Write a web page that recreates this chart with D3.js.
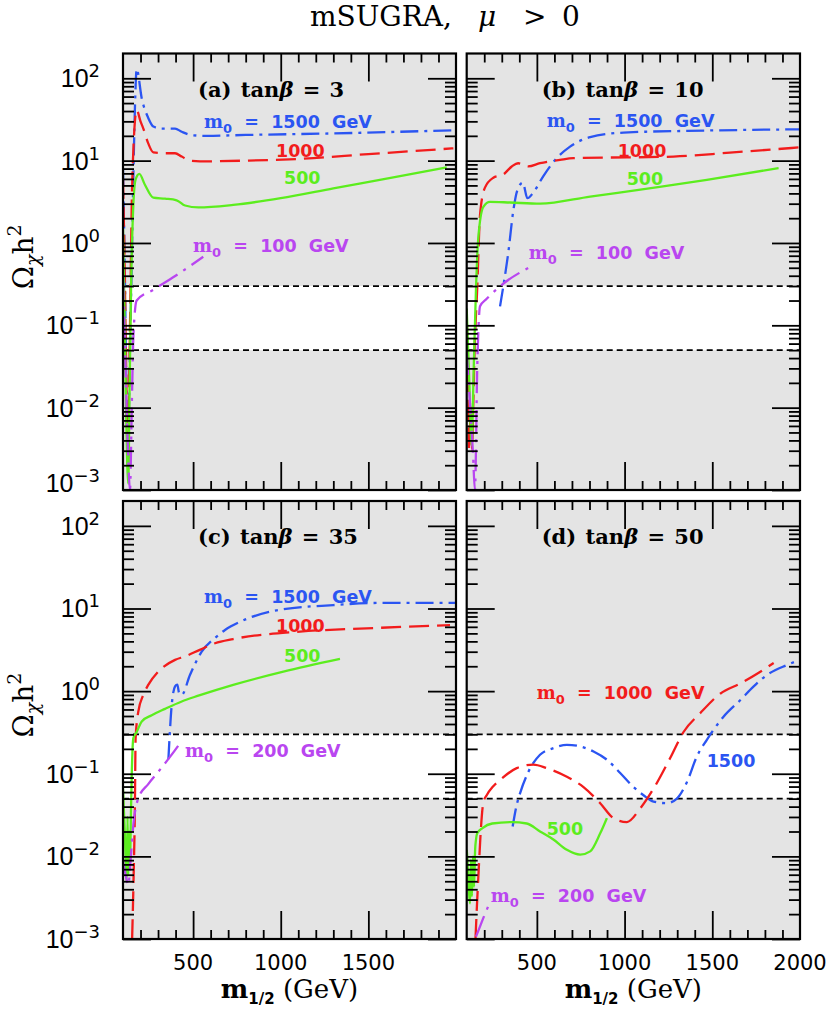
<!DOCTYPE html>
<html>
<head>
<meta charset="utf-8">
<script src="https://cdn.jsdelivr.net/npm/d3@7"></script>
<style>
  body { margin: 0; background: #fff; }
  svg text { white-space: pre; }
</style>
</head>
<body>
<svg id="fig" width="830" height="1012"></svg>
<script>
/* mSUGRA relic density, four tan(beta) panels. */

// axes
const X_DOMAIN = [100, 2000];
const Y_DOMAIN = [1e-3, 200];
const xMajor = [500, 1000, 1500];
const xLabelsLeft = [500, 1000, 1500];
const xLabelsRight = [500, 1000, 1500, 2000];
const yDecades = [1e-3, 1e-2, 1e-1, 1, 10, 100];
const yExponents = ["\u22123", "\u22122", "\u22121", "0", "1", "2"];
const wmapBand = [0.05, 0.3];

// (a) tan beta = 3   — [m_1/2 (GeV), Omega h^2]
const a1500 = [[100,8],[110,0.5],[122,0.01],[130,0.006],[140,0.05],[150,0.6],[160,8],[170,60],[178,130],[207,57],[244,33],[273,26],[321,24.5],[397,24.5],[435,22.4],[492,20.4],[578,20],[800,20.5],[1298,21.4],[1985,23.4]];
const a1000 = [[100,6],[108,0.8],[118,0.03],[128,0.002],[135,0.02],[142,0.2],[150,3],[160,15],[178,41],[200,30],[216,24.5],[244,16.2],[273,12.6],[340,12.3],[397,12.3],[435,11.2],[482,10],[539,9.8],[800,10],[1110,10.5],[1500,12],[1985,14.1]];
const a500 = [[100,1.5],[110,0.1],[120,0.005],[130,0.0012],[138,0.02],[146,0.28],[159,2.9],[172,5.9],[193,6.9],[225,5.1],[273,3.55],[340,3.45],[406,3.3],[454,2.85],[530,2.7],[729,2.9],[1000,3.5],[1300,4.6],[1650,6.3],[1947,8.3]];
const a100 = [[100,0.38],[112,0.05],[125,0.005],[140,0.001],[150,0.01],[160,0.08],[178,0.2],[273,0.27],[400,0.4],[558,0.68]];

// (b) tan beta = 10
const b1500 = [[290,0.17],[309,0.3],[337,0.76],[366,2.5],[389,4.4],[420,5.4],[446,3.5],[480,4.1],[537,6.5],[604,10.2],[689,14.8],[804,19.3],[994,21.9],[1469,23.2],[2000,24]];
const b1000 = [[100,0.13],[108,0.02],[114,0.003],[118,0.012],[122,0.004],[126,0.01],[130,0.003],[136,0.008],[145,0.05],[160,0.28],[176,2.2],[204,4.7],[252,6.2],[309,6.8],[357,8.5],[394,9.3],[451,8.5],[518,9.3],[632,10.2],[708,10.7],[1279,11.2],[1600,12.5],[2000,14.5]];
const b500 = [[100,0.16],[115,0.02],[128,0.0035],[140,0.03],[153,0.28],[166,1.15],[195,2.75],[233,3.16],[347,3.1],[518,3.0],[804,3.66],[1200,4.8],[1469,5.85],[1878,8.1]];
const b100 = [[100,0.046],[120,0.01],[135,0.003],[147,0.001],[160,0.03],[176,0.17],[214,0.21],[300,0.31],[461,0.51]];

// (c) tan beta = 35
const c1500 = [[359,0.15],[378,0.68],[397,1.14],[410,1.2],[420,0.95],[435,0.9],[482,1.57],[549,3.0],[625,4.4],[682,5.5],[768,6.9],[977,9.5],[1300,11],[1585,11.7],[2000,11.7]];
const c1000 = [[152,0.001],[160,0.005],[168,0.042],[172,0.27],[187,0.56],[216,0.9],[244,1.19],[301,1.72],[397,2.39],[454,2.63],[538,3.16],[625,3.8],[729,4.27],[1110,5.25],[1490,5.75],[1966,6.3]];
const c500 = [[100,0.066],[110,0.02],[121,0.005],[126,0.03],[130,0.006],[135,0.02],[140,0.008],[145,0.03],[150,0.1],[159,0.27],[178,0.32],[207,0.43],[264,0.51],[340,0.61],[435,0.75],[530,0.88],[729,1.19],[1015,1.72],[1338,2.45]];
const c200 = [[100,0.0087],[115,0.006],[130,0.0045],[145,0.01],[159,0.024],[187,0.05],[244,0.075],[292,0.1],[368,0.16],[435,0.25]];

// (d) tan beta = 50
const d1500 = [[362,0.023],[385,0.042],[404,0.058],[452,0.106],[518,0.17],[594,0.204],[671,0.224],[747,0.214],[823,0.186],[899,0.148],[975,0.102],[1051,0.069],[1108,0.055],[1165,0.046],[1241,0.044],[1298,0.05],[1355,0.079],[1412,0.162],[1469,0.257],[1507,0.34],[1564,0.49],[1660,0.78],[1736,1.14],[1812,1.57],[1926,2.07],[2000,2.39]];
const d1000 = [[150,0.001],[160,0.003],[170,0.008],[180,0.02],[195,0.045],[214,0.055],[250,0.07],[290,0.084],[385,0.117],[480,0.129],[556,0.117],[671,0.092],[766,0.069],[861,0.044],[937,0.029],[1013,0.026],[1089,0.038],[1165,0.066],[1260,0.155],[1336,0.32],[1431,0.54],[1545,0.93],[1660,1.24],[1774,1.72],[1850,2.19]];
const d500 = [[100,0.012],[103,0.01],[112,0.004],[119,0.0027],[124,0.009],[130,0.0033],[136,0.01],[142,0.0043],[148,0.012],[153,0.016],[160,0.019],[190,0.022],[245,0.025],[357,0.026],[442,0.025],[518,0.02],[594,0.016],[671,0.012],[747,0.0105],[804,0.0115],[861,0.019],[899,0.029]];
const d200 = [[153,0.00107],[175,0.0014],[195,0.0018],[223,0.0025]];

(function () {
  "use strict";

  const BLUE = "#2b55f2", RED = "#f21c1c", GREEN = "#5ced1e", PURPLE = "#b946f0";
  const GRAY = "#e4e4e4";
  const STYLE = {
    hi:  { color: BLUE,   dash: "18,6,3,6" },
    mid: { color: RED,    dash: "20,8" },
    lo:  { color: GREEN,  dash: null },
    min: { color: PURPLE, dash: "22,7,3,7" },
  };
  const SANS = "DejaVu Sans", SERIF = "DejaVu Serif";

  const LEFT = { left: 123, right: 456 }, RIGHT = { left: 466.7, right: 800 };
  const TOP = { top: 53.5, bottom: 490 }, BOT = { top: 501, bottom: 939 };

  // label offsets are px from the panel's top-left corner (baseline)
  const panels = [
    { id: "a", tanb: "3", ...LEFT, ...TOP, yLabels: true, xLabels: null,
      curves: [[a1500, "hi"], [a1000, "mid"], [a500, "lo"], [a100, "min"]],
      labels: [
        { s: "hi", m0: true, t: "  =  1500  GeV", dx: 81, dy: 74.5 },
        { s: "mid", t: "1000", dx: 153, dy: 103.5 },
        { s: "lo", t: "500", dx: 161, dy: 130.5 },
        { s: "min", m0: true, t: "  =  100  GeV", dx: 70, dy: 198.5 },
      ] },
    { id: "b", tanb: "10", ...RIGHT, ...TOP, yLabels: false, xLabels: null,
      curves: [[b1500, "hi"], [b1000, "mid"], [b500, "lo"], [b100, "min"]],
      labels: [
        { s: "hi", m0: true, t: "  =  1500  GeV", dx: 80, dy: 73 },
        { s: "mid", t: "1000", dx: 151, dy: 103 },
        { s: "lo", t: "500", dx: 160, dy: 131.5 },
        { s: "min", m0: true, t: "  =  100  GeV", dx: 62, dy: 205.5 },
      ] },
    { id: "c", tanb: "35", ...LEFT, ...BOT, yLabels: true, xLabels: xLabelsLeft,
      curves: [[c1500, "hi"], [c1000, "mid"], [c500, "lo"], [c200, "min"]],
      labels: [
        { s: "hi", m0: true, t: "  =  1500  GeV", dx: 81, dy: 102 },
        { s: "mid", t: "1000", dx: 153, dy: 130.7 },
        { s: "lo", t: "500", dx: 161, dy: 160.7 },
        { s: "min", m0: true, t: "  =  200  GeV", dx: 62, dy: 255.7 },
      ] },
    { id: "d", tanb: "50", ...RIGHT, ...BOT, yLabels: false, xLabels: xLabelsRight,
      curves: [[d1500, "hi"], [d1000, "mid"], [d500, "lo"], [d200, "min"]],
      labels: [
        { s: "mid", m0: true, t: "  =  1000  GeV", dx: 70, dy: 198 },
        { s: "hi", t: "1500", dx: 240, dy: 265.7 },
        { s: "lo", t: "500", dx: 80, dy: 334 },
        { s: "min", m0: true, t: "  =  200  GeV", dx: 24, dy: 400.7 },
      ] },
  ];

  const xMinor = d3.range(200, 2000, 100).filter((v) => !xMajor.includes(v));
  const yMinor = yDecades.flatMap((d) => d3.range(2, 10).map((k) => d * k))
    .filter((v) => v < Y_DOMAIN[1]);

  const svg = d3.select("#fig");
  const defs = svg.append("defs");

  // title
  const title = svg.append("text").attr("y", 26).attr("font-family", SERIF)
    .attr("font-size", 28).attr("fill", "#000");
  title.append("tspan").attr("x", 310).text("mSUGRA,");
  title.append("tspan").attr("x", 478).attr("font-style", "italic").text("\u03bc");
  title.append("tspan").attr("x", 523).text(">");
  title.append("tspan").attr("x", 562).text("0");

  panels.forEach(drawPanel);

  function drawPanel(p) {
    const x = d3.scaleLinear().domain(X_DOMAIN).range([p.left, p.right]);
    const y = d3.scaleLog().domain(Y_DOMAIN).range([p.bottom, p.top]);
    const g = svg.append("g").attr("class", "panel-" + p.id);

    defs.append("clipPath").attr("id", "clip-" + p.id).append("rect")
      .attr("x", p.left).attr("y", p.top).attr("width", p.right - p.left).attr("height", p.bottom - p.top);

    // shaded background, white allowed band
    g.append("rect").attr("x", p.left).attr("y", p.top)
      .attr("width", p.right - p.left).attr("height", p.bottom - p.top).attr("fill", GRAY);
    g.append("rect").attr("x", p.left).attr("y", y(wmapBand[1]))
      .attr("width", p.right - p.left).attr("height", y(wmapBand[0]) - y(wmapBand[1])).attr("fill", "#fff");
    g.selectAll(".band").data(wmapBand).enter().append("line")
      .attr("x1", p.left).attr("x2", p.right).attr("y1", (v) => y(v)).attr("y2", (v) => y(v))
      .attr("stroke", "#000").attr("stroke-width", 1.8).attr("stroke-dasharray", "6,4");

    // curves
    const line = d3.line().x((d) => x(d[0])).y((d) => y(d[1])).curve(d3.curveMonotoneX);
    const cg = g.append("g").attr("clip-path", `url(#clip-${p.id})`);
    p.curves.forEach(([data, s]) => {
      cg.append("path").datum(data).attr("d", line).attr("fill", "none")
        .attr("stroke", STYLE[s].color).attr("stroke-width", 2.3)
        .attr("stroke-linejoin", "round")
        .attr("stroke-dasharray", STYLE[s].dash);
    });

    // inward ticks on all four sides
    const ax = (fn, sc, vals, size, tr) => {
      g.append("g").attr("transform", tr)
        .call(fn(sc).tickValues(vals).tickSize(-size).tickFormat(""))
        .call((s) => s.select(".domain").remove())
        .selectAll("line").attr("stroke", "#000").attr("stroke-width", 1.8);
    };
    ax(d3.axisLeft, y, yDecades, 28, `translate(${p.left},0)`);
    ax(d3.axisLeft, y, yMinor, 11, `translate(${p.left},0)`);
    ax(d3.axisRight, y, yDecades, 28, `translate(${p.right},0)`);
    ax(d3.axisRight, y, yMinor, 11, `translate(${p.right},0)`);
    ax(d3.axisBottom, x, xMajor, 28, `translate(0,${p.bottom})`);
    ax(d3.axisBottom, x, xMinor, 9, `translate(0,${p.bottom})`);
    ax(d3.axisTop, x, xMajor, 28, `translate(0,${p.top})`);
    ax(d3.axisTop, x, xMinor, 9, `translate(0,${p.top})`);

    g.append("rect").attr("x", p.left).attr("y", p.top)
      .attr("width", p.right - p.left).attr("height", p.bottom - p.top)
      .attr("fill", "none").attr("stroke", "#000").attr("stroke-width", 2.2);

    // panel tag
    const tag = g.append("text").attr("x", p.left + 75).attr("y", p.top + 43)
      .attr("font-family", SERIF).attr("font-weight", "bold").attr("font-size", 21)
      .attr("word-spacing", 2).attr("fill", "#000");
    tag.append("tspan").text(`(${p.id}) tan`);
    tag.append("tspan").attr("font-style", "italic").text("\u03b2");
    tag.append("tspan").text(` = ${p.tanb}`);

    // curve labels
    p.labels.forEach((L) => {
      const t = g.append("text").attr("x", p.left + L.dx).attr("y", p.top + L.dy)
        .attr("fill", STYLE[L.s].color).attr("font-family", SANS)
        .attr("font-weight", "bold").attr("font-size", 17.5);
      if (L.m0) {
        t.append("tspan").attr("font-family", SERIF).attr("font-size", 18).text("m");
        t.append("tspan").attr("font-size", 13).attr("dy", 5).text("0");
        t.append("tspan").attr("dy", -5).text(L.t);
      } else {
        t.text(L.t);
      }
    });

    // y tick labels + axis title
    if (p.yLabels) {
      yDecades.forEach((v, i) => {
        const lift = (p.top < 100 && i === 0) ? -7 : 0;
        const t = g.append("text").attr("x", p.left - 23).attr("y", y(v) + 9 + lift)
          .attr("text-anchor", "end").attr("fill", "#000");
        t.append("tspan").attr("font-family", "Liberation Sans").attr("font-size", 25).text("10");
        t.append("tspan").attr("font-family", SANS).attr("font-size", 18).attr("dy", -10).text(yExponents[i]);
      });
      const cy = (p.top + p.bottom) / 2 - 15;
      const yt = g.append("text").attr("transform", `translate(33,${cy}) rotate(-90)`)
        .attr("text-anchor", "middle").attr("font-family", SERIF).attr("font-size", 28).attr("fill", "#000");
      yt.append("tspan").text("\u03a9");
      yt.append("tspan").attr("font-size", 19).attr("dy", 6).attr("font-style", "italic").text("\u03c7");
      yt.append("tspan").attr("dy", -6).text("h");
      yt.append("tspan").attr("font-size", 19).attr("dy", -12).text("2");
    }

    // x tick labels + axis title
    if (p.xLabels) {
      g.selectAll(".xl").data(p.xLabels).enter().append("text")
        .attr("x", (v) => x(v)).attr("y", p.bottom + 31).attr("text-anchor", "middle")
        .attr("font-family", SANS).attr("font-size", 21).attr("fill", "#000").text((v) => v);
      const xt = g.append("text").attr("x", (p.left + p.right) / 2).attr("y", p.bottom + 59)
        .attr("text-anchor", "middle").attr("font-family", SERIF).attr("font-size", 26).attr("fill", "#000");
      xt.append("tspan").attr("font-weight", "bold").text("m");
      xt.append("tspan").attr("font-family", SANS).attr("font-weight", "bold").attr("font-size", 15).attr("dy", 6).text("1/2");
      xt.append("tspan").attr("dy", -6).text(" (GeV)");
    }
  }
})();
</script>
</body>
</html>
